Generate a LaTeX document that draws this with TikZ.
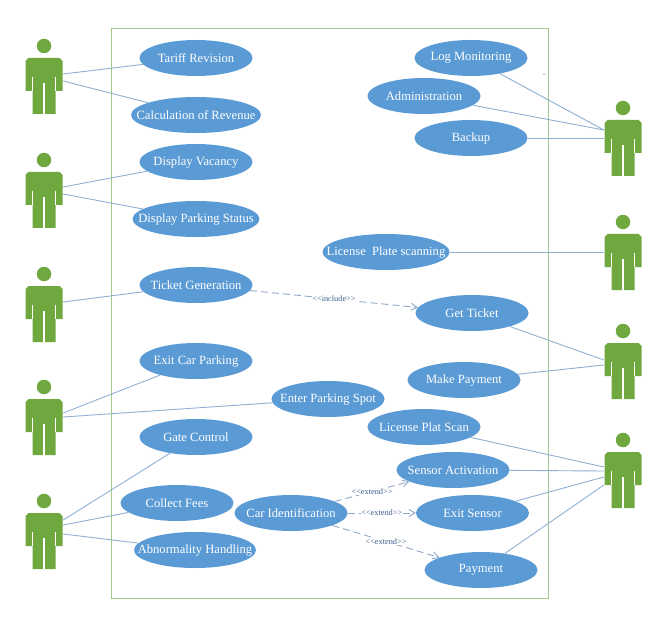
\documentclass[tikz,border=0pt]{standalone}
\usepackage{fontspec}
\setmainfont{Liberation Serif}
\usetikzlibrary{shapes.geometric,arrows.meta}
\definecolor{actorgreen}{HTML}{6FA83F}
\definecolor{ucblue}{HTML}{5B9BD5}
\definecolor{boxgreen}{HTML}{A5C98A}
\definecolor{linkblue}{HTML}{8FB0D3}
\definecolor{dashblue}{HTML}{8FA8C8}
\definecolor{labelblue}{HTML}{3F5F8F}
\newcommand{\uctext}[1]{\makebox[0pt][c]{#1}}
\tikzset{
  usecase/.style={ellipse,fill=ucblue,text=white,inner sep=0pt,minimum height=36pt,minimum width=113pt,font=\fontsize{12.6}{14}\selectfont},
  actorhit/.style={rectangle,inner sep=0pt,minimum width=38pt,minimum height=56pt},
  actorhead/.style={circle,fill=actorgreen,inner sep=0pt,minimum size=14.5pt},
  link/.style={draw=linkblue,line width=0.9pt},
  dep/.style={draw=dashblue,line width=0.9pt,dash pattern=on 7pt off 4pt,-{Straight Barb[length=6pt,width=7pt]}},
  deplabel/.style={fill=white,inner sep=0.5pt,text=labelblue,font=\fontsize{8.3}{9}\selectfont},
}
\newcommand{\umlactor}[3]{%
  \node[actorhead] (#1head) at (#2,#3) {};
  \fill[actorgreen,shift={(#2,#3)}] (-18.5,15) -- (-18.5,45) -- (-11.5,45) -- (-11.5,68) -- (11.5,68) -- (11.5,45) -- (18.5,45) -- (18.5,15) -- (15.5,12) -- (-15.5,12) -- cycle;
  \draw[white,line width=1.2pt,shift={(#2,#3)}] (-11.5,31) -- (-11.5,45) (11.5,31) -- (11.5,45) (0,37) -- (0,68);
  \node[actorhit] (#1) at (#2,#3+40) {};
}
\begin{document}
\begin{tikzpicture}[x=1pt,y=-1pt]
\useasboundingbox (0,0) rectangle (666,620);
\fill[white] (0,0) rectangle (666,620);
\draw[boxgreen,line width=1pt] (111,29) rectangle (548,598);
\fill[black!70] (544,74) circle (0.6);

\umlactor{la}{44}{46}
\umlactor{lb}{44}{160}
\umlactor{lc}{44}{274}
\umlactor{ld}{44}{387}
\umlactor{le}{44}{501}
\umlactor{ra}{623}{108}
\umlactor{rb}{623}{222}
\umlactor{rc}{623}{331}
\umlactor{rd}{623}{440}

\node[usecase] (tariff) at (196,58) {\uctext{Tariff Revision}};
\node[usecase,minimum width=130pt] (revenue) at (196,115) {\uctext{Calculation of Revenue}};
\node[usecase] (vacancy) at (196,162) {\uctext{Display Vacancy}};
\node[usecase,minimum width=127pt] (status) at (196,219) {\uctext{Display Parking Status}};
\node[usecase] (ticketgen) at (196,285) {\uctext{Ticket Generation}};
\node[usecase] (exitcar) at (196,361) {\uctext{Exit Car Parking}};
\node[usecase] (enter) at (328,399) {\uctext{Enter Parking Spot}};
\node[usecase] (gate) at (196,437) {\uctext{Gate Control}};
\node[usecase] (fees) at (177,503) {\uctext{Collect Fees}};
\node[usecase,minimum width=122pt] (abnormal) at (195,550) {\uctext{Abnormality Handling}};
\node[usecase] (carid) at (291,513) {\uctext{Car Identification}};
\node[usecase] (logmon) at (471,58) {\uctext{Log Monitoring}};
\node[usecase] (admin) at (424,96) {\uctext{Administration}};
\node[usecase] (backup) at (471,138) {\uctext{Backup}};
\node[usecase,minimum width=127pt] (plate) at (386,252) {\uctext{License\ \ Plate scanning}};
\node[usecase] (getticket) at (472,313) {\uctext{Get Ticket}};
\node[usecase] (makepay) at (464,380) {\uctext{Make Payment}};
\node[usecase] (platescan) at (424,427) {\uctext{License Plat Scan}};
\node[usecase] (sensor) at (453,470) {\uctext{Sensor Activation}};
\node[usecase] (exitsensor) at (472.5,513) {\uctext{Exit Sensor}};
\node[usecase] (payment) at (481,570) {\uctext{Payment}};

\draw[link] ([yshift=12pt]la.east) -- (tariff);
\draw[link] ([yshift=5pt]la.east) -- (revenue);
\draw[link] ([yshift=13pt]lb.east) -- (vacancy);
\draw[link] ([yshift=6pt]lb.east) -- (status);
\draw[link] ([yshift=12pt]lc.east) -- (ticketgen);
\draw[link] ([yshift=14pt]ld.east) -- (exitcar);
\draw[link] ([yshift=10pt]ld.east) -- (enter);
\draw[link] ([yshift=21pt]le.east) -- (gate);
\draw[link] ([yshift=16pt]le.east) -- (fees);
\draw[link] ([yshift=7pt]le.east) -- (abnormal);
\draw[link] ([yshift=18pt]ra.west) -- (logmon);
\draw[link] ([yshift=18pt]ra.west) -- (admin);
\draw[link] ([yshift=10pt]ra.west) -- (backup);
\draw[link] ([yshift=10pt]rb.west) -- (plate);
\draw[link] ([yshift=11pt]rc.west) -- (getticket);
\draw[link] ([yshift=6pt]rc.west) -- (makepay);
\draw[link] ([yshift=13pt]rd.west) -- (platescan);
\draw[link] ([yshift=9pt]rd.west) -- (sensor);
\draw[link] ([yshift=3pt]rd.west) -- (exitsensor);
\draw[link] ([yshift=-5pt]rd.west) -- (payment);

\draw[dep] (ticketgen) -- node[deplabel] (lblinc) {<{}<include>{}>} (getticket);
\draw[dep] (carid) -- node[deplabel] (lblext1) {<{}<extend>{}>} (sensor);
\draw[dep] (carid) -- node[deplabel] (lblext2) {<{}<extend>{}>} (exitsensor);
\draw[dep] (carid) -- node[deplabel] (lblext3) {<{}<extend>{}>} (payment);
\end{tikzpicture}
\end{document}
